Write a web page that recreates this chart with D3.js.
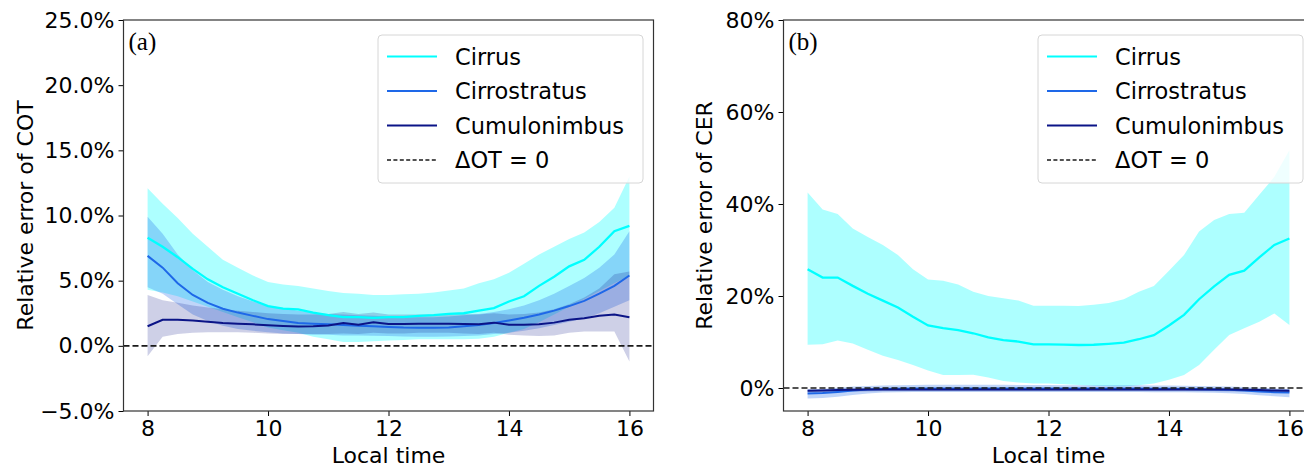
<!DOCTYPE html>
<html>
<head>
<meta charset="utf-8">
<script src="https://cdn.jsdelivr.net/npm/d3@7"></script>
<style>
body { margin: 0; background: #fff; }
text { fill: #000; }
</style>
</head>
<body>
<svg id="chart" width="1304" height="468"></svg>
<script>
// local time (hours), one sample every 15 min
var TIMES = [8, 8.25, 8.5, 8.75, 9, 9.25, 9.5, 9.75, 10, 10.25, 10.5, 10.75, 11, 11.25, 11.5, 11.75, 12,
	12.25, 12.5, 12.75, 13, 13.25, 13.5, 13.75, 14, 14.25, 14.5, 14.75, 15, 15.25, 15.5, 15.75, 16];

var SERIES_NAMES = ["Cirrus", "Cirrostratus", "Cumulonimbus"];
var SERIES_COLORS = ["#00FFFF", "#1E68E8", "#0B1487"];
var ZERO_LABEL = "\u0394OT = 0";

// (a) relative error of COT, %
var COT_CIRRUS = [8.3, 7.6, 6.8, 5.9, 5.1, 4.5, 4.0, 3.5, 3.05, 2.85, 2.8, 2.55, 2.35, 2.2, 2.2, 2.15, 2.2,
	2.2, 2.3, 2.35, 2.45, 2.5, 2.7, 2.9, 3.4, 3.8, 4.6, 5.3, 6.1, 6.6, 7.6, 8.8, 9.2];
var COT_CIRRUS_HI = [12.1, 10.9, 9.8, 8.6, 7.6, 6.6, 6.0, 5.4, 4.9, 4.7, 4.6, 4.4, 4.2, 4.05, 4.0, 3.9, 3.9,
	3.95, 4.0, 4.1, 4.25, 4.4, 4.8, 5.1, 5.6, 6.3, 7.0, 7.6, 8.2, 8.7, 9.5, 10.6, 13.0];
var COT_CIRRUS_LO = [4.3, 4.1, 3.8, 3.4, 3.0, 2.6, 2.2, 1.8, 1.4, 1.2, 1.0, 0.7, 0.5, 0.3, 0.3, 0.35, 0.4,
	0.45, 0.5, 0.5, 0.5, 0.5, 0.55, 0.7, 1.0, 1.3, 1.8, 2.4, 3.0, 3.6, 4.2, 4.8, 5.4];

var COT_CS = [6.9, 6.0, 4.8, 3.9, 3.3, 2.85, 2.55, 2.3, 2.05, 1.9, 1.75, 1.7, 1.65, 1.6, 1.55, 1.5, 1.45,
	1.4, 1.38, 1.38, 1.4, 1.5, 1.6, 1.75, 1.95, 2.15, 2.4, 2.7, 3.05, 3.45, 4.0, 4.6, 5.4];
var COT_CS_HI = [9.9, 8.6, 7.0, 5.8, 4.9, 4.3, 3.8, 3.4, 3.1, 2.9, 2.7, 2.55, 2.45, 2.4, 2.35, 2.3, 2.25,
	2.2, 2.2, 2.2, 2.25, 2.35, 2.45, 2.6, 2.8, 3.1, 3.5, 4.0, 4.6, 5.2, 6.0, 7.0, 8.8];
var COT_CS_LO = [4.5, 4.0, 3.2, 2.4, 1.9, 1.55, 1.3, 1.15, 1.05, 0.95, 0.9, 0.85, 0.85, 0.8, 0.8, 0.78, 0.75,
	0.72, 0.7, 0.7, 0.72, 0.75, 0.8, 0.9, 1.0, 1.15, 1.35, 1.6, 1.85, 2.1, 2.5, 3.0, 3.5];

var COT_CB = [1.5, 2.0, 2.0, 1.95, 1.85, 1.75, 1.7, 1.65, 1.58, 1.52, 1.48, 1.5, 1.56, 1.75, 1.62, 1.8, 1.68,
	1.68, 1.7, 1.7, 1.7, 1.68, 1.65, 1.78, 1.62, 1.62, 1.65, 1.78, 2.0, 2.12, 2.3, 2.4, 2.2];
var COT_CB_HI = [3.9, 3.5, 3.3, 3.1, 2.95, 2.8, 2.7, 2.6, 2.5, 2.45, 2.4, 2.4, 2.45, 2.6, 2.45, 2.55, 2.4,
	2.4, 2.4, 2.4, 2.4, 2.45, 2.4, 2.5, 2.4, 2.45, 2.55, 2.8, 3.2, 3.7, 4.4, 5.5, 5.7];
var COT_CB_LO = [-0.8, 0.7, 0.9, 1.0, 1.05, 1.05, 1.05, 1.0, 0.95, 0.9, 0.9, 0.9, 0.9, 0.95, 0.9, 1.0, 0.95,
	0.95, 1.0, 1.0, 1.0, 0.95, 0.9, 1.0, 0.85, 0.8, 0.75, 0.8, 1.0, 1.1, 1.1, 1.1, -1.2];

// (b) relative error of CER, %
var CER_CIRRUS = [25.8, 24.0, 24.0, 22.2, 20.5, 19.0, 17.5, 15.5, 13.6, 13.0, 12.6, 11.9, 11.0, 10.4, 10.1, 9.5, 9.5,
	9.45, 9.35, 9.4, 9.6, 9.85, 10.6, 11.5, 13.6, 15.9, 19.3, 22.1, 24.6, 25.5, 28.4, 31.1, 32.5];
var CER_CIRRUS_HI = [42.5, 38.8, 37.8, 34.7, 32.8, 31.1, 28.9, 25.8, 23.6, 23.3, 22.5, 20.9, 20.0, 19.5, 19.0, 17.9, 17.9,
	17.9, 17.8, 18.1, 18.5, 19.3, 20.9, 22.2, 25.5, 28.9, 34.0, 36.5, 37.8, 38.1, 42.0, 45.9, 51.7];
var CER_CIRRUS_LO = [9.4, 9.5, 10.3, 9.7, 8.3, 7.0, 6.1, 5.0, 3.8, 2.8, 2.8, 2.9, 2.3, 1.5, 1.2, 1.0, 1.0,
	0.8, 0.65, 0.5, 0.4, 0.3, 0.6, 1.0, 1.8, 2.8, 5.0, 8.3, 11.5, 13.0, 14.4, 16.2, 13.7];

var CER_CS = [-1.2, -1.1, -0.85, -0.55, -0.35, -0.2, -0.15, -0.1, -0.1, -0.1, -0.1, -0.1, -0.1, -0.1, -0.1, -0.1, -0.1,
	-0.1, -0.1, -0.1, -0.1, -0.1, -0.1, -0.15, -0.15, -0.2, -0.25, -0.3, -0.4, -0.55, -0.75, -0.9, -1.0];
var CER_CS_HI = [-0.3, -0.2, 0.05, 0.3, 0.45, 0.55, 0.6, 0.65, 0.7, 0.7, 0.7, 0.7, 0.7, 0.7, 0.65, 0.65, 0.65,
	0.6, 0.6, 0.6, 0.6, 0.6, 0.6, 0.55, 0.55, 0.5, 0.45, 0.4, 0.3, 0.2, 0.05, -0.1, -0.2];
var CER_CS_LO = [-2.3, -2.2, -1.9, -1.5, -1.2, -1.0, -0.9, -0.85, -0.85, -0.85, -0.85, -0.85, -0.85, -0.85, -0.85, -0.85, -0.85,
	-0.85, -0.85, -0.85, -0.85, -0.85, -0.85, -0.9, -0.9, -0.95, -1.0, -1.05, -1.15, -1.3, -1.55, -1.8, -2.0];

var CER_CB = [-0.6, -0.55, -0.45, -0.4, -0.35, -0.3, -0.3, -0.3, -0.3, -0.3, -0.3, -0.3, -0.3, -0.3, -0.3, -0.3, -0.3,
	-0.3, -0.3, -0.3, -0.3, -0.3, -0.3, -0.3, -0.3, -0.3, -0.3, -0.3, -0.35, -0.4, -0.45, -0.55, -0.6];
var CER_CB_HI = [-0.25, -0.2, -0.1, -0.05, 0, 0.05, 0.05, 0.05, 0.05, 0.05, 0.05, 0.05, 0.05, 0.05, 0.05, 0.05, 0.05,
	0.05, 0.05, 0.05, 0.05, 0.05, 0.05, 0.05, 0.05, 0.05, 0.05, 0.05, 0, -0.05, -0.1, -0.2, -0.25];
var CER_CB_LO = [-1.0, -0.95, -0.85, -0.8, -0.75, -0.7, -0.7, -0.7, -0.7, -0.7, -0.7, -0.7, -0.7, -0.7, -0.7, -0.7, -0.7,
	-0.7, -0.7, -0.7, -0.7, -0.7, -0.7, -0.7, -0.7, -0.7, -0.7, -0.7, -0.75, -0.8, -0.85, -0.95, -1.0];

var X_TICKS = [8, 10, 12, 14, 16];
var COT_TICKS = [-5, 0, 5, 10, 15, 20, 25];
var CER_TICKS = [0, 20, 40, 60, 80];

var FILL_OPACITY = [0.32, 0.28, 0.2];
var SANS = "DejaVu Sans, sans-serif";

var svg = d3.select("#chart");

function drawPanel({left, right, top, bottom, yDomain, yTicks, yFormat, means, his, los, tag, yLabel, yLabelOffset, clipId}) {
	var x = d3.scaleLinear().domain([7.6, 16.4]).range([left, right]);
	var y = d3.scaleLinear().domain(yDomain).range([bottom, top]);

	var g = svg.append("g");

	g.append("clipPath").attr("id", clipId)
		.append("rect")
		.attr("x", left).attr("y", top)
		.attr("width", right - left).attr("height", bottom - top);

	var plot = g.append("g").attr("clip-path", "url(#" + clipId + ")");

	// shaded ranges first, lines on top
	SERIES_NAMES.forEach(function(name, k) {
		var rows = TIMES.map(function(t, i) { return {t: t, lo: los[k][i], hi: his[k][i]}; });
		var area = d3.area()
			.x(function(d) { return x(d.t); })
			.y0(function(d) { return y(d.lo); })
			.y1(function(d) { return y(d.hi); });
		plot.append("path")
			.datum(rows)
			.attr("d", area)
			.attr("fill", SERIES_COLORS[k])
			.attr("fill-opacity", FILL_OPACITY[k]);
	});

	SERIES_NAMES.forEach(function(name, k) {
		var rows = TIMES.map(function(t, i) { return {t: t, v: means[k][i]}; });
		var line = d3.line()
			.x(function(d) { return x(d.t); })
			.y(function(d) { return y(d.v); });
		plot.append("path")
			.datum(rows)
			.attr("d", line)
			.attr("fill", "none")
			.attr("stroke", SERIES_COLORS[k])
			.attr("stroke-width", k === 0 ? 2.3 : 2);
	});

	// zero line
	plot.append("line")
		.attr("x1", left).attr("x2", right)
		.attr("y1", y(0)).attr("y2", y(0))
		.attr("stroke", "#1a1a1a")
		.attr("stroke-width", 1.6)
		.attr("stroke-dasharray", "6,3");

	// axes
	var xAxis = d3.axisBottom(x).tickValues(X_TICKS).tickSizeInner(5).tickSizeOuter(0).tickPadding(4);
	var yAxis = d3.axisLeft(y).tickValues(yTicks).tickFormat(yFormat).tickSizeInner(5).tickSizeOuter(0).tickPadding(4);

	var gx = g.append("g").attr("transform", "translate(0," + bottom + ")").call(xAxis);
	var gy = g.append("g").attr("transform", "translate(" + left + ",0)").call(yAxis);
	[gx, gy].forEach(function(a) {
		a.select(".domain").remove();
		a.selectAll("line").attr("stroke", "#000").attr("stroke-width", 1);
		a.selectAll("text").style("font-size", "22px").style("font-family", SANS).attr("fill", "#000");
	});

	g.append("rect")
		.attr("x", left).attr("y", top)
		.attr("width", right - left).attr("height", bottom - top)
		.attr("fill", "none")
		.attr("stroke", "#333")
		.attr("stroke-width", 1.2);

	g.append("text")
		.attr("x", (left + right) / 2)
		.attr("y", 463)
		.attr("text-anchor", "middle")
		.style("font-family", SANS)
		.style("font-size", "22px")
		.text("Local time");

	g.append("text")
		.attr("transform", "translate(" + (left - yLabelOffset) + "," + ((top + bottom) / 2) + ") rotate(-90)")
		.attr("text-anchor", "middle")
		.attr("dy", "0.35em")
		.style("font-family", SANS)
		.style("font-size", "22px")
		.text(yLabel);

	g.append("text")
		.attr("x", left + 5)
		.attr("y", top + 30)
		.style("font-family", "'Liberation Serif', 'DejaVu Serif', serif")
		.style("font-size", "25px")
		.text(tag);

	// legend
	var lx = right - 275.5, ly = top + 15, lw = 265, lh = 148;
	var leg = g.append("g");
	leg.append("rect")
		.attr("x", lx).attr("y", ly)
		.attr("width", lw).attr("height", lh)
		.attr("rx", 4)
		.attr("fill", "#fff").attr("fill-opacity", 0.8)
		.attr("stroke", "#d6d6d6").attr("stroke-width", 1);

	var entries = SERIES_NAMES.map(function(n, k) { return {label: n, color: SERIES_COLORS[k], dash: null}; });
	entries.push({label: ZERO_LABEL, color: "#1a1a1a", dash: "4,2.4"});

	entries.forEach(function(e, i) {
		var cy = ly + 21.5 + i * 34.5;
		leg.append("line")
			.attr("x1", lx + 9).attr("x2", lx + 59)
			.attr("y1", cy).attr("y2", cy)
			.attr("stroke", e.color)
			.attr("stroke-width", e.dash ? 1.6 : 2)
			.attr("stroke-dasharray", e.dash);
		leg.append("text")
			.attr("x", lx + 77)
			.attr("y", cy)
			.attr("dy", "0.36em")
			.style("font-family", SANS)
			.style("font-size", "22.5px")
			.text(e.label);
	});
}

drawPanel({
	left: 123.5, right: 653.5, top: 20, bottom: 411,
	yDomain: [-5, 25], yTicks: COT_TICKS,
	yFormat: function(d) { return d3.format(".1f")(d) + "%"; },
	means: [COT_CIRRUS, COT_CS, COT_CB],
	his: [COT_CIRRUS_HI, COT_CS_HI, COT_CB_HI],
	los: [COT_CIRRUS_LO, COT_CS_LO, COT_CB_LO],
	tag: "(a)", yLabel: "Relative error of COT", yLabelOffset: 98, clipId: "clip-a"
});

drawPanel({
	left: 783.5, right: 1313.5, top: 20, bottom: 411,
	yDomain: [-5, 80], yTicks: CER_TICKS,
	yFormat: function(d) { return d + "%"; },
	means: [CER_CIRRUS, CER_CS, CER_CB],
	his: [CER_CIRRUS_HI, CER_CS_HI, CER_CB_HI],
	los: [CER_CIRRUS_LO, CER_CS_LO, CER_CB_LO],
	tag: "(b)", yLabel: "Relative error of CER", yLabelOffset: 79, clipId: "clip-b"
});
</script>
</body>
</html>
